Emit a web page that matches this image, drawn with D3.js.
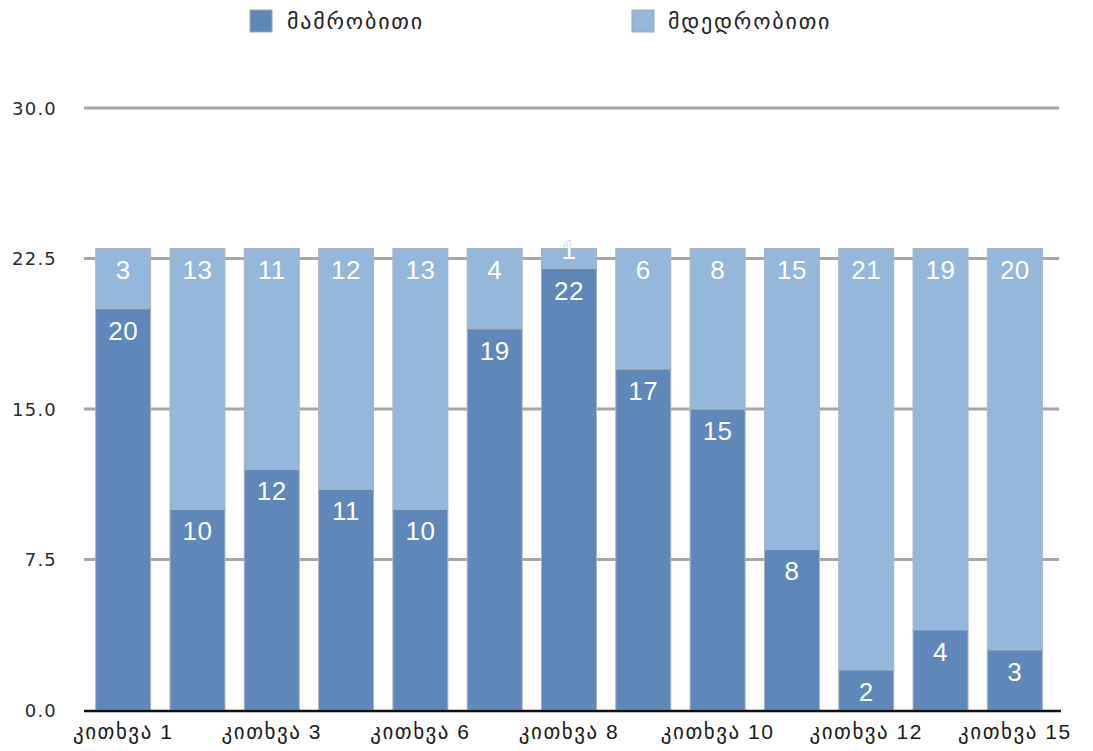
<!DOCTYPE html>
<html><head><meta charset="utf-8">
<script src="https://cdn.jsdelivr.net/npm/d3@7"></script>
<style>
html,body{margin:0;padding:0;background:#fff;}
text{font-family:"Liberation Sans","DejaVu Sans",Arial,sans-serif;}
</style></head>
<body><svg id="c" width="1093" height="751"></svg>
<script>
const categories = ["კითხვა 1","კითხვა 2","კითხვა 3","კითხვა 4","კითხვა 6","კითხვა 7","კითხვა 8","კითხვა 9","კითხვა 10","კითხვა 11","კითხვა 12","კითხვა 13","კითხვა 15"];
const male   = [20,10,12,11,10,19,22,17,15,8,2,4,3];
const female = [3,13,11,12,13,4,1,6,8,15,21,19,20];
const seriesNames = ["მამრობითი","მდედრობითი"];
const yTicks = [0,7.5,15,22.5,30];
const colors = ["#5e87ba","#93b8db"];

const svg = d3.select("#c");
const x = d3.scaleBand().domain(categories).range([86,1052]).paddingInner(0.26).paddingOuter(0.13);
const y = d3.scaleLinear().domain([0,30]).range([710,108]);

// grid
svg.append("g").selectAll("line").data(yTicks.filter(d=>d>0)).join("line")
  .attr("x1",84).attr("x2",1059).attr("y1",d=>y(d)).attr("y2",d=>y(d))
  .attr("stroke","#a6a6a6").attr("stroke-width",3);

// y labels
const yAxis = d3.axisLeft(y).tickValues(yTicks).tickFormat(d3.format(".1f")).tickSize(0).tickPadding(0);
const ya = svg.append("g").attr("transform","translate(57,0)").call(yAxis);
ya.select(".domain").remove();
ya.selectAll("text").attr("font-size",18).attr("fill","#2a2a2a").attr("dy","0.36em")
  .style("font-family","'DejaVu Sans',sans-serif").attr("letter-spacing",1.2);

// stacks
const rows = categories.map((c,i)=>({cat:c,male:male[i],female:female[i]}));
const stack = d3.stack().keys(["male","female"])(rows);
const g = svg.append("g");
stack.forEach((s,si)=>{
  g.append("g").selectAll("rect").data(s).join("rect")
    .attr("x",d=>x(d.data.cat)).attr("width",x.bandwidth())
    .attr("y",d=>y(d[1])).attr("height",d=>y(d[0])-y(d[1]))
    .attr("fill",colors[si]).attr("stroke","#a9b4bf").attr("stroke-width",1);
});
stack.forEach((s,si)=>{
  g.append("g").selectAll("text").data(s).join("text")
    .attr("x",d=>x(d.data.cat)+x.bandwidth()/2)
    .attr("y",d=>{const h=y(d[0])-y(d[1]); return h<30 ? y(d[1])+h/2 : y(d[1])+31;})
    .attr("text-anchor","middle").attr("font-size",26).attr("fill","#fff")
    .attr("letter-spacing",0.5)
    .attr("stroke",d=>(y(d[0])-y(d[1]))<30?"#b0b8c0":"none").attr("stroke-width",0.8)
    .attr("paint-order","stroke")
    .text(d=>d[1]-d[0]);
});

// x axis line
svg.append("line").attr("x1",84).attr("x2",1061).attr("y1",711).attr("y2",711)
  .attr("stroke","#111").attr("stroke-width",2.5);

// x labels
const xAxis = d3.axisBottom(x).tickSize(0).tickPadding(0)
  .tickFormat((d,i)=> i%2===0 ? d : "");
const xa = svg.append("g").attr("transform","translate(0,724)").call(xAxis);
xa.select(".domain").remove();
xa.selectAll("text").attr("font-size",21).attr("fill","#1a1a1a").attr("dy","0.71em")
  .attr("letter-spacing",1.5);

// legend
const leg = svg.append("g");
const lx = [250,632], tx=[287,668];
seriesNames.forEach((n,i)=>{
  leg.append("rect").attr("x",lx[i]).attr("y",10).attr("width",22).attr("height",22)
    .attr("fill",colors[i]).attr("stroke","#9aa7b5").attr("stroke-width",1);
  leg.append("text").attr("x",tx[i]).attr("y",29).attr("font-size",22).attr("fill","#222")
    .attr("letter-spacing",1.8).text(n);
});
</script></body></html>
